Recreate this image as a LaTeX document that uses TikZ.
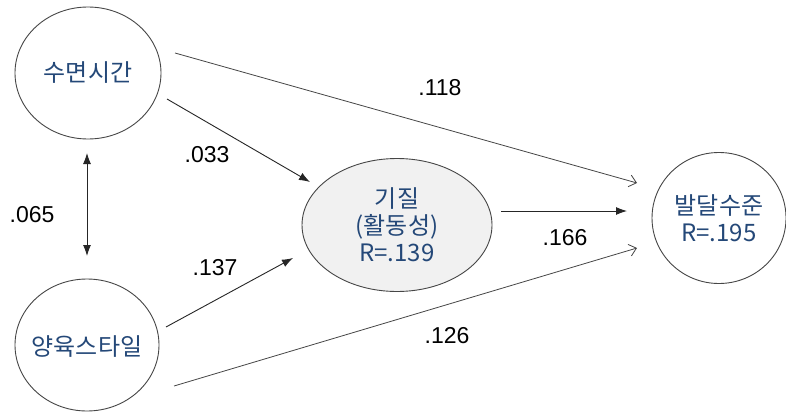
\documentclass[tikz,border=0pt]{standalone}
\usepackage{fontspec}
\setmainfont{Liberation Sans}
\newfontfamily\krfont{Noto Sans CJK KR}
\usetikzlibrary{arrows.meta,shapes.geometric}
\definecolor{txtblue}{RGB}{36,72,120}
\definecolor{edgegray}{RGB}{70,70,70}
\definecolor{fillgray}{RGB}{241,241,241}
\begin{document}
\begin{tikzpicture}[x=1pt,y=-1pt,
  var/.style={draw=edgegray, line width=0.9pt, ellipse, inner sep=0pt},
  vtext/.style={inner sep=0pt, text=txtblue, font=\krfont\fontsize{24}{27}\selectfont, align=center},
  coef/.style={font=\fontsize{23}{24}\selectfont, text=black},
  solidarr/.style={draw=black!85, line width=0.9pt, -{Latex[length=11pt,width=8pt]}},
  bothsolid/.style={draw=black!85, line width=0.9pt, {Latex[length=11pt,width=8pt]}-{Latex[length=11pt,width=8pt]}},
  openarr/.style={draw=edgegray, line width=0.8pt, -{Straight Barb[length=7pt,width=12pt]}}]
\useasboundingbox[fill=white] (0,0) rectangle (786,412);

\node[var, minimum width=146pt, minimum height=132pt] (sleep) at (88,73) {};
\node[var, minimum width=144pt, minimum height=132pt] (parent) at (87,345) {};
\node[var, fill=fillgray, minimum width=190pt, minimum height=133pt] (temp) at (397,225) {};
\node[var, minimum width=134pt, minimum height=131pt] (dev) at (719,218) {};

\node[vtext] (sleep-t) at (88,73) {수면시간};
\node[vtext] (parent-t) at (87,347) {양육스타일};
\node[vtext] (temp-t) at (397,225) {기질\\(활동성)\\R=.139};
\node[vtext] (dev-t) at (719,218) {발달수준\\R=.195};

\coordinate (s1) at (175,53);  \coordinate (d1) at (637,183);
\coordinate (s2) at (167,99);  \coordinate (t1) at (310,182);
\coordinate (p1) at (166,327); \coordinate (t2) at (293,258);
\coordinate (p2) at (174,386); \coordinate (d2) at (637,248);
\coordinate (t3) at (501,211); \coordinate (d3) at (627,211);
\coordinate (c1) at (87,153);  \coordinate (c2) at (87,256);

\draw[openarr] (s1) -- (d1);
\draw[openarr] (p2) -- (d2);
\draw[solidarr] (s2) -- (t1);
\draw[solidarr] (p1) -- (t2);
\draw[solidarr] (t3) -- (d3);
\draw[bothsolid] (c1) -- (c2);

\node[coef] (l118) at (440,88) {.118};
\node[coef] (l033) at (207,155) {.033};
\node[coef] (l065) at (32,215) {.065};
\node[coef] (l137) at (215,268) {.137};
\node[coef] (l166) at (565,238) {.166};
\node[coef] (l126) at (447,336) {.126};
\end{tikzpicture}
\end{document}
